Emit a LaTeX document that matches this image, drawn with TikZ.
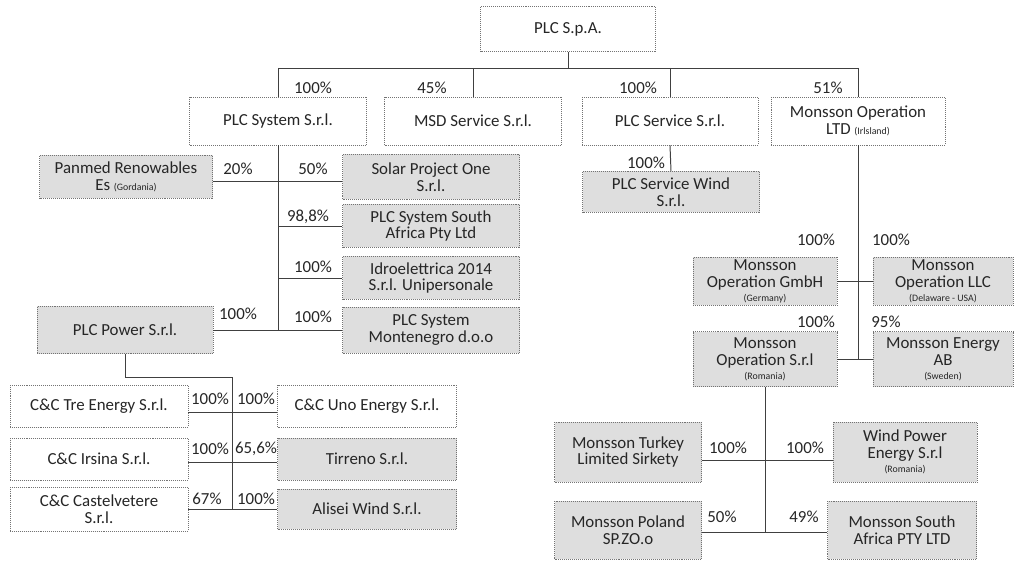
\documentclass[tikz,border=0pt]{standalone}
\usepackage{fontspec}
\setmainfont{Carlito}
\usepackage{tikz}
\usetikzlibrary{positioning,calc}

\tikzset{
  unit/.style={draw=black!55, densely dotted, align=center, inner sep=1pt,
    text=black!85, font=\fontsize{12}{14}\selectfont},
  greyunit/.style={unit, fill=black!13},
  dims/.style 2 args={minimum width=#1*0.025cm, minimum height=#2*0.025cm},
  pct/.style={font=\fontsize{12}{14}\selectfont, text=black!85, inner sep=0pt},
  link/.style={draw=black!75, line width=0.7pt}
}
\newcommand{\ctry}[1]{{\fontsize{7}{8}\selectfont #1}}

\begin{document}
\begin{tikzpicture}[x=0.025cm, y=-0.025cm]
\fill[white] (0,0) rectangle (1017,563);
\useasboundingbox (0,0) rectangle (1017,563);

% top of the group
\node[unit, dims={175}{45}] (spa) at (568,29) {PLC S.p.A.};
\node[unit, dims={177}{48}] (sys) at (278,121) {PLC System S.r.l.};
\node[unit, dims={177}{48}] (msd) at (473,121) {MSD Service S.r.l.};
\node[unit, dims={176}{48}] (serv) at (670,121) {PLC Service S.r.l.};
\node[unit, dims={174}{48}] (mop) at (858,121) {Monsson Operation\\[-2pt]LTD \ctry{(Irlsland)}};

\coordinate (busL) at (278,68);
\coordinate (busR) at (858,68);
\draw[link] (busL) -- (busR);
\draw[link] (spa.south) -- (spa.south |- busL);
\draw[link] (busL) -- (sys.north);
\draw[link] (msd.north |- busL) -- (msd.north);
\draw[link] (serv.north |- busL) -- (serv.north);
\draw[link] (busR) -- (mop.north);

\node[pct] (p1) at (313,88) {100\%};
\node[pct] (p2) at (432,88) {45\%};
\node[pct] (p3) at (638,88) {100\%};
\node[pct] (p4) at (828,88) {51\%};

% PLC System branch
\node[greyunit, dims={173}{43}] (panmed) at (126,177) {Panmed Renowables\\[-2pt]Es \ctry{(Gordania)}};
\node[greyunit, dims={177}{45}] (solar) at (431,177) {Solar Project One\\[-2pt]S.r.l.};
\node[greyunit, dims={177}{43}] (sysza) at (431,226) {PLC System South\\[-2pt]Africa Pty Ltd};
\node[greyunit, dims={177}{43}] (idro) at (431,278) {Idroelettrica 2014\\[-2pt]S.r.l. Unipersonale};
\node[greyunit, dims={177}{46}] (monte) at (431,330) {PLC System\\[-2pt]Montenegro d.o.o};
\node[greyunit, dims={176}{47}] (power) at (125,330) {PLC Power S.r.l.};

\draw[link] (sys.south) -- (sys.south |- monte.west);
\draw[link] ($(panmed.east)+(0,4)$) -- ($(solar.west)+(0,4)$);
\draw[link] (sys.south |- sysza.west) -- (sysza.west);
\draw[link] (sys.south |- idro.west) -- (idro.west);
\draw[link] (power.east) -- (monte.west);

\node[pct] (p5) at (238,169) {20\%};
\node[pct] (p6) at (313,169) {50\%};
\node[pct] (p7) at (308,217) {98,8\%};
\node[pct] (p8) at (313,267) {100\%};
\node[pct] (p9) at (313,317) {100\%};
\node[pct] (p10) at (238,314) {100\%};

% PLC Power branch
\node[unit, dims={178}{42}] (tre) at (99,406) {C\&C Tre Energy S.r.l.};
\node[unit, dims={179}{42}] (uno) at (367,406) {C\&C Uno Energy S.r.l.};
\node[unit, dims={178}{42}] (irsina) at (99,459) {C\&C Irsina S.r.l.};
\node[greyunit, dims={179}{42}] (tirreno) at (367,459) {Tirreno S.r.l.};
\node[unit, dims={178}{44}] (castel) at (99,509) {C\&C Castelvetere\\[-2pt]S.r.l.};
\node[greyunit, dims={179}{40}] (alisei) at (367,509) {Alisei Wind S.r.l.};

\coordinate (pwrJ) at (232,377);
\draw[link] (power.south) |- (pwrJ) -- (pwrJ |- castel.east);
\draw[link] ($(tre.east)+(0,6)$) -- ($(uno.west)+(0,6)$);
\draw[link] ($(irsina.east)+(0,3)$) -- ($(tirreno.west)+(0,3)$);
\draw[link] (castel.east) -- (alisei.west);

\node[pct] (p11) at (210,399) {100\%};
\node[pct] (p12) at (256,399) {100\%};
\node[pct] (p13) at (210,449) {100\%};
\node[pct] (p14) at (256,449) {65,6\%};
\node[pct] (p15) at (207,499) {67\%};
\node[pct] (p16) at (256,499) {100\%};

% PLC Service branch
\node[greyunit, dims={177}{41}] (wind) at (671,192) {PLC Service Wind\\[-2pt]S.r.l.};
\draw[link] (serv.south) -- (wind.north);
\node[pct] (p17) at (646,163) {100\%};

% Monsson Operation branch
\node[greyunit, dims={144}{48}] (gmbh) at (765,281) {Monsson\\[-2pt]Operation GmbH\\[-4pt]\ctry{(Germany)}};
\node[greyunit, dims={140}{48}] (llc) at (943,281) {Monsson\\[-2pt]Operation LLC\\[-4pt]\ctry{(Delaware - USA)}};
\node[greyunit, dims={144}{55}] (mosrl) at (765,359) {Monsson\\[-2pt]Operation S.r.l\\[-4pt]\ctry{(Romania)}};
\node[greyunit, dims={140}{55}] (ab) at (943,359) {Monsson Energy\\[-2pt]AB\\[-4pt]\ctry{(Sweden)}};

\draw[link] (mop.south) -- (mop.south |- ab.west);
\draw[link] (gmbh.east) -- (llc.west);
\draw[link] (mosrl.east) -- (ab.west);

\node[pct] (p18) at (816,240) {100\%};
\node[pct] (p19) at (891,240) {100\%};
\node[pct] (p20) at (816,322) {100\%};
\node[pct] (p21) at (886,322) {95\%};

% Monsson Operation S.r.l branch
\node[greyunit, dims={147}{60}] (turkey) at (628,452) {Monsson Turkey\\[-2pt]Limited Sirkety};
\node[greyunit, dims={144}{60}] (wpe) at (905,452) {Wind Power\\[-2pt]Energy S.r.l\\[-4pt]\ctry{(Romania)}};
\node[greyunit, dims={147}{58}] (poland) at (628,530) {Monsson Poland\\[-2pt]SP.ZO.o};
\node[greyunit, dims={149}{58}] (sa) at (902,530) {Monsson South\\[-2pt]Africa PTY LTD};

\draw[link] (mosrl.south) -- ($(mosrl.south |- sa.west)+(0,2)$);
\draw[link] ($(turkey.east)+(0,8)$) -- ($(wpe.west)+(0,8)$);
\draw[link] ($(poland.east)+(0,2)$) -- ($(sa.west)+(0,2)$);

\node[pct] (p22) at (728,448) {100\%};
\node[pct] (p23) at (805,448) {100\%};
\node[pct] (p24) at (722,517) {50\%};
\node[pct] (p25) at (804,517) {49\%};
\end{tikzpicture}
\end{document}
